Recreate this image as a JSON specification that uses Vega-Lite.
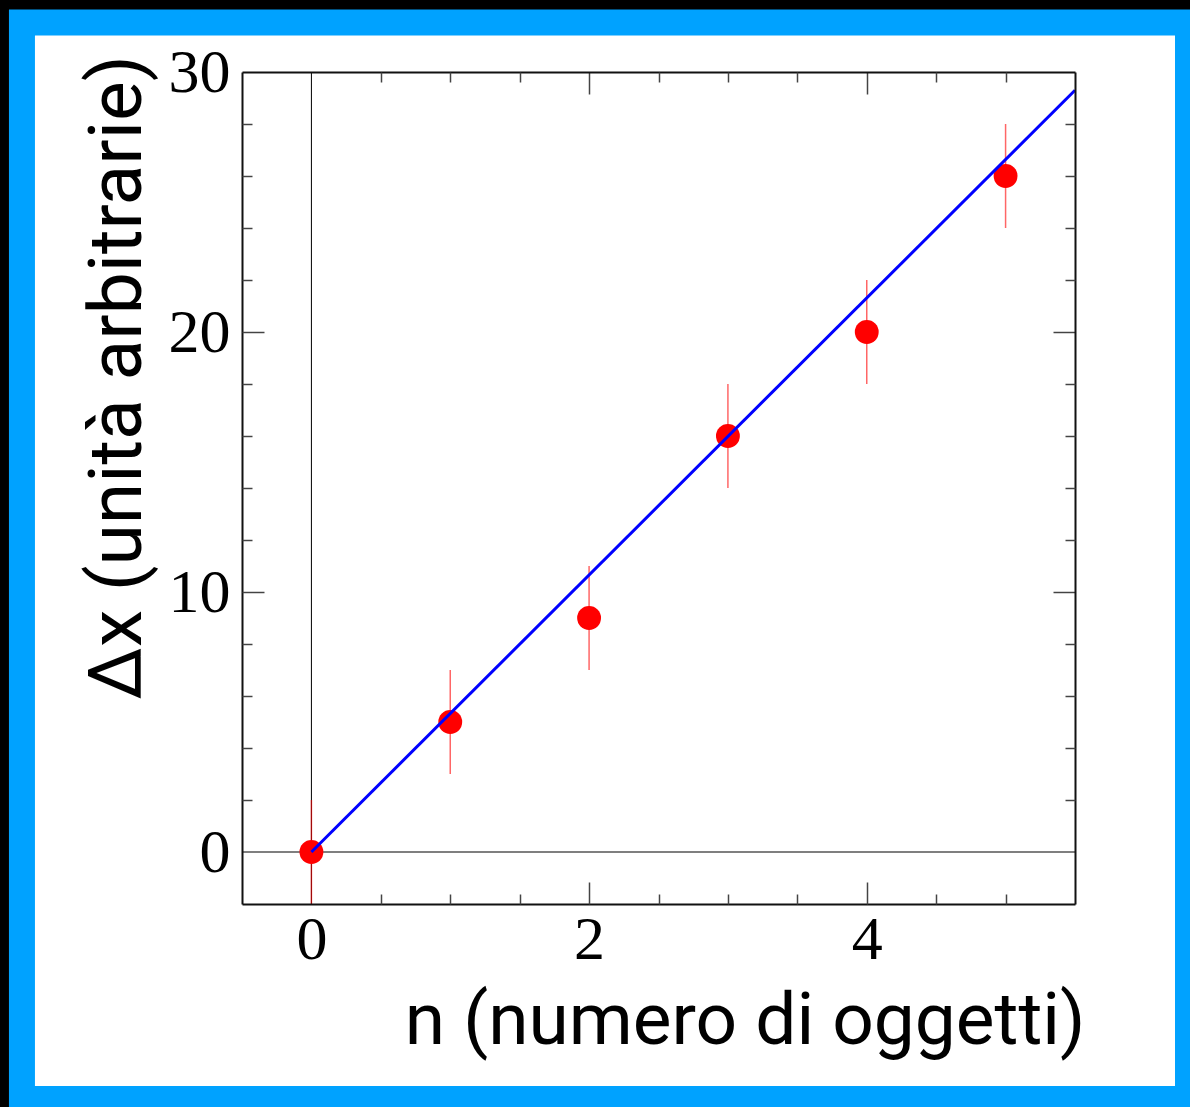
{
  "$schema": "https://vega.github.io/schema/vega-lite/v6.json",
  "width": 833,
  "height": 832,
  "autosize": {"type": "none"},
  "padding": {"left": 242, "top": 72, "right": 115, "bottom": 203},
  "background": "black",
  "datasets": {
    "obs": [
      {"n": 0, "dx": 0, "lo": -2, "hi": 2},
      {"n": 1, "dx": 5, "lo": 3, "hi": 7},
      {"n": 2, "dx": 9, "lo": 7, "hi": 11},
      {"n": 3, "dx": 16, "lo": 14, "hi": 18},
      {"n": 4, "dx": 20, "lo": 18, "hi": 22},
      {"n": 5, "dx": 26, "lo": 24, "hi": 28}
    ],
    "fit": [
      {"n": 0, "dx": 0},
      {"n": 5.5, "dx": 29.3}
    ]
  },
  "config": {
    "view": {"stroke": null},
    "axis": {
      "zindex": 1,
      "grid": false,
      "domainColor": "#111111",
      "domainWidth": 2,
      "tickColor": "#444444",
      "tickWidth": 1.5,
      "labelFont": "Liberation Serif",
      "labelFontSize": 62,
      "labelColor": "black",
      "titleFont": "Roboto",
      "titleFontSize": 74,
      "titleFontWeight": "normal",
      "titleColor": "black"
    }
  },
  "resolve": {"axis": {"x": "independent", "y": "independent"}},
  "layer": [
    {
      "data": {"values": [{}]},
      "mark": {"type": "rect", "fill": "white", "stroke": "#00a2ff", "strokeWidth": 26, "clip": false},
      "encoding": {
        "x": {
          "datum": -2.085, "type": "quantitative",
          "scale": {"domain": [-0.5, 5.5], "nice": false, "zero": false},
          "axis": {
            "zindex": 2, "orient": "bottom", "values": [0, 2, 4], "ticks": false, "domain": true,
            "labelPadding": 5, "title": "n (numero di oggetti)", "titleFontSize": 73,
            "titleAnchor": null, "titleX": 843, "titleY": 139,
            "titleAlign": "right", "titleBaseline": "alphabetic"
          }
        },
        "x2": {"datum": 6.314},
        "y": {
          "datum": 31.904, "type": "quantitative",
          "scale": {"domain": [-2, 30], "nice": false, "zero": false},
          "axis": {
            "zindex": 2, "orient": "left", "values": [0, 10, 20, 30], "ticks": false, "domain": true,
            "labelPadding": 12, "title": "Δx (unità arbitrarie)", "titleFontSize": 75,
            "titleAnchor": null, "titleAngle": -90, "titleX": -102, "titleY": 305,
            "titleAlign": "center", "titleBaseline": "alphabetic"
          }
        },
        "y2": {"datum": -9.5}
      }
    },
    {
      "data": {"values": [{}]},
      "mark": {"type": "rule", "color": "black", "strokeWidth": 1},
      "encoding": {
        "x": {
          "datum": 0, "type": "quantitative",
          "axis": {"zindex": 2, "orient": "bottom", "values": [2, 4], "tickSize": -22, "labels": false, "domain": false, "title": null}
        }
      }
    },
    {
      "data": {"values": [{}]},
      "mark": {"type": "rule", "color": "black", "strokeWidth": 1.2},
      "encoding": {
        "y": {
          "datum": 0, "type": "quantitative",
          "axis": {"zindex": 2, "orient": "left", "values": [10, 20], "tickSize": -22, "labels": false, "domain": false, "title": null}
        }
      }
    },
    {
      "data": {"name": "obs"},
      "mark": {"type": "rule", "color": "#ff0000", "opacity": 0.6, "strokeWidth": 1.5},
      "encoding": {
        "x": {
          "field": "n", "type": "quantitative",
          "axis": {"zindex": 2, "orient": "bottom", "values": [0.5, 1, 1.5, 2.5, 3, 3.5, 4.5, 5], "tickSize": -10, "labels": false, "domain": false, "title": null}
        },
        "y": {
          "field": "lo", "type": "quantitative",
          "axis": {"zindex": 2, "orient": "left", "values": [2, 4, 6, 8, 12, 14, 16, 18, 22, 24, 26, 28], "tickSize": -10, "labels": false, "domain": false, "title": null}
        },
        "y2": {"field": "hi"}
      }
    },
    {
      "data": {"name": "obs"},
      "mark": {"type": "circle", "color": "#ff0000", "opacity": 1, "size": 570},
      "encoding": {
        "x": {
          "field": "n", "type": "quantitative",
          "axis": {"zindex": 2, "orient": "top", "values": [2, 4], "tickSize": -22, "labels": false, "domain": true, "title": null}
        },
        "y": {
          "field": "dx", "type": "quantitative",
          "axis": {"zindex": 2, "orient": "right", "values": [10, 20], "tickSize": -22, "labels": false, "domain": true, "title": null}
        }
      }
    },
    {
      "data": {"name": "fit"},
      "mark": {"type": "line", "color": "#0000ff", "strokeWidth": 3},
      "encoding": {
        "x": {
          "field": "n", "type": "quantitative",
          "axis": {"zindex": 2, "orient": "top", "values": [0.5, 1, 1.5, 2.5, 3, 3.5, 4.5, 5], "tickSize": -10, "labels": false, "domain": false, "title": null}
        },
        "y": {
          "field": "dx", "type": "quantitative",
          "axis": {"zindex": 2, "orient": "right", "values": [2, 4, 6, 8, 12, 14, 16, 18, 22, 24, 26, 28], "tickSize": -10, "labels": false, "domain": false, "title": null}
        }
      }
    }
  ]
}
